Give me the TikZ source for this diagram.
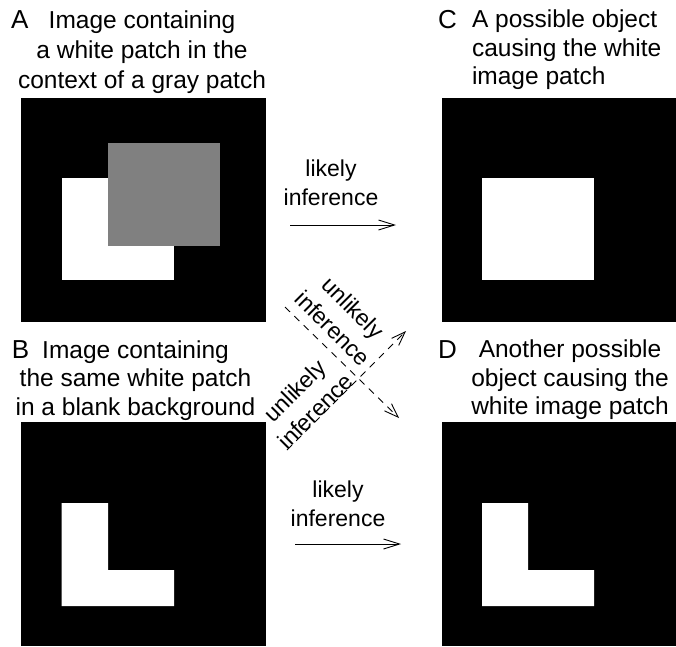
\documentclass[tikz,border=0pt]{standalone}
\usepackage{fontspec}
\setmainfont{Liberation Sans}
\usetikzlibrary{arrows.meta}
\definecolor{patchgray}{RGB}{128,128,128}
\tikzset{
  txt/.style={font=\fontsize{23}{29}\selectfont, inner sep=0pt, outer sep=0pt},
  captxt/.style={font=\fontsize{24.5}{28.5}\selectfont, inner sep=0pt, outer sep=0pt},
  captxtwide/.style={font=\fontsize{24.5}{30}\selectfont, inner sep=0pt, outer sep=0pt},
  lettertxt/.style={font=\fontsize{26}{30}\selectfont, inner sep=0pt, outer sep=0pt},
  blk/.style={fill=black, draw=none},
  wht/.style={fill=white, draw=none},
  likelyarrow/.style={line width=0.9pt, -{Straight Barb[length=16pt,width=10pt,line width=0.9pt]}},
  unlikelyarrow/.style={line width=0.9pt, dash pattern=on 7pt off 6pt, -{Straight Barb[length=14pt,width=10pt,line width=0.9pt]}}
}
\begin{document}
\begin{tikzpicture}[x=1pt, y=-1pt]
\useasboundingbox (0,0) rectangle (676,646);
% panel squares
\fill[blk] (21,98) rectangle (266,322);
\fill[blk] (442,98) rectangle (676,322);
\fill[blk] (21,422) rectangle (266,646);
\fill[blk] (442,422) rectangle (676,646);
% A: white patch with gray patch over it
\fill[wht] (61.5,178) rectangle (174,280);
\fill[patchgray] (107.5,143) rectangle (220,246);
% C: white rectangle
\fill[wht] (482,178) rectangle (594,280);
% B: L-shaped white patch
\fill[wht] (61.5,503) -- (108,503) -- (108,570) -- (174,570) -- (174,606) -- (61.5,606) -- cycle;
% D: L-shaped object
\fill[wht] (482,503) -- (528,503) -- (528,570) -- (594,570) -- (594,606) -- (482,606) -- cycle;
% letters
\node[lettertxt, anchor=base west] (la) at (11,28) {A};
\node[lettertxt, anchor=base west] (lc) at (438,28) {C};
\node[lettertxt, anchor=base west] (lb) at (12,358) {B};
\node[lettertxt, anchor=base west] (ld) at (438,358) {D};
% captions
\node[captxtwide, anchor=north, align=center] (ta) at (142,10.5) {Image containing\\a white patch in the\\context of a gray patch};
\node[captxt, anchor=north west, align=left] (tc) at (472,10) {A possible object\\causing the white\\image patch};
\node[captxt, anchor=north, align=center] (tb) at (135.5,340.5) {Image containing\\the same white patch\\in a blank background};
\node[captxt, anchor=north, align=center] (td) at (570,340) {Another possible\\object causing the\\white image patch};
% likely inference arrows
\node[txt, anchor=north, align=center] (li1) at (331,160) {likely\\inference};
\coordinate (a1s) at (290,225);
\coordinate (a1e) at (396,225);
\draw[likelyarrow] (a1s) -- (a1e);
\node[txt, anchor=north, align=center] (li2) at (338,481) {likely\\inference};
\coordinate (a2s) at (295,544);
\coordinate (a2e) at (401,544);
\draw[likelyarrow] (a2s) -- (a2e);
% unlikely inference arrows
\coordinate (u1s) at (285,307);
\coordinate (u1e) at (399,418);
\draw[unlikelyarrow] (u1s) -- (u1e);
\coordinate (u2s) at (287,450);
\coordinate (u2e) at (406,331);
\draw[unlikelyarrow] (u2s) -- (u2e);
\node[txt, align=center, rotate=-45] (ul1) at (343,318) {unlikely\\inference};
\node[txt, align=center, rotate=45] (ul2) at (305,401) {unlikely\\inference};
\end{tikzpicture}
\end{document}
